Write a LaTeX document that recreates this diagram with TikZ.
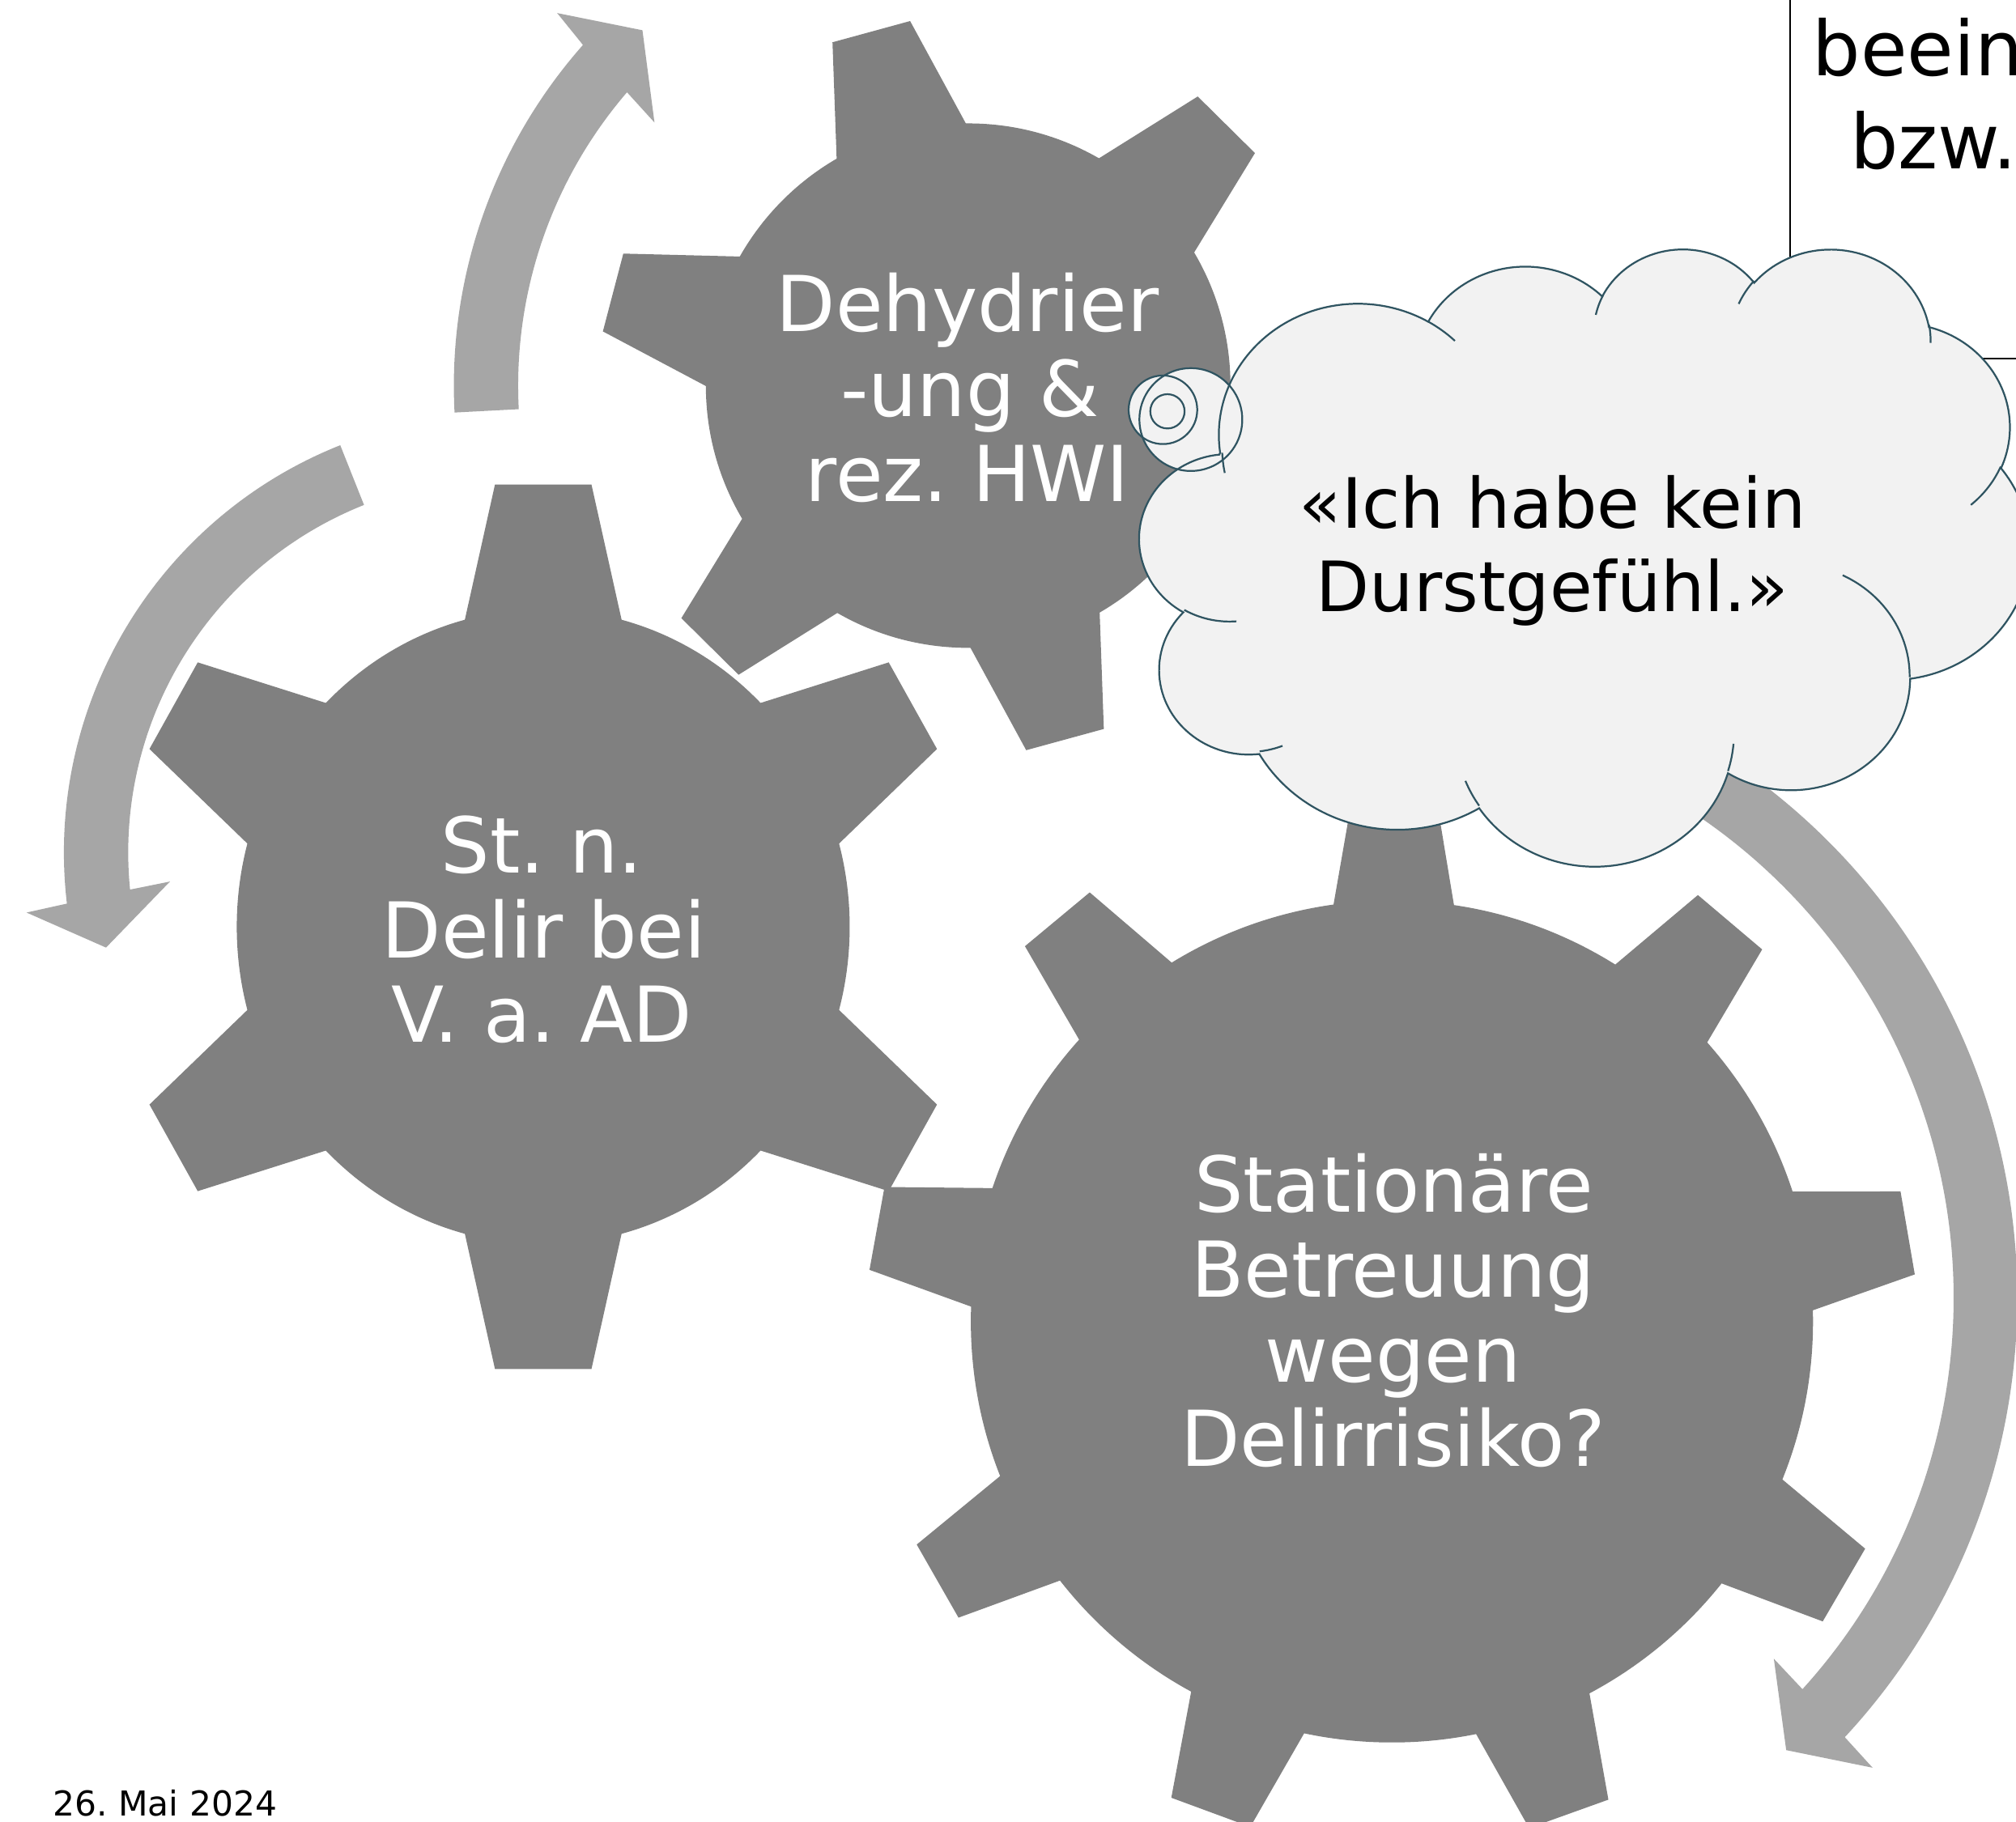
\documentclass[tikz,border=0pt]{standalone}
\usepackage{fontspec}
\setmainfont{DejaVu Sans}
\frenchspacing
\definecolor{gearc}{HTML}{808080}
\definecolor{arrowc}{HTML}{A6A6A6}
\definecolor{cloudfillc}{HTML}{F2F2F2}
\definecolor{cloudlinec}{HTML}{2F5461}
\tikzset{
  gearfill/.style={fill=gearc},
  arrowfill/.style={fill=arrowc},
  cloudfill/.style={fill=cloudfillc},
  cloudline/.style={draw=cloudlinec, line width=1.4pt},
  geartext/.style={text=white, font=\fontsize{60}{66}\selectfont, anchor=base, inner sep=0pt},
  cloudtext/.style={text=black, font=\fontsize{54}{65}\selectfont, anchor=base, inner sep=0pt},
  boxline/.style={draw=black, line width=1.3pt},
  boxtext/.style={text=black, font=\fontsize{59}{72}\selectfont, anchor=base west, inner sep=0pt},
  datetext/.style={text=black, font=\fontsize{26.7}{32}\selectfont, anchor=base west, inner sep=0pt}
}
% visual (DrawingML) angles -> parametric angles of an ellipse arc
\newcommand\cldang[6]{%
  \pgfmathparse{atan2((#3)*sin(#5),(#4)*cos(#5))}\xdef#1{\pgfmathresult}%
  \pgfmathparse{atan2((#3)*sin((#5)+(#6)),(#4)*cos((#5)+(#6)))}\xdef#2{\pgfmathresult}%
  \pgfmathparse{ifthenelse(#2<#1,#2+360,#2)}\xdef#2{\pgfmathresult}%
}
\cldang{\cldsA}{\cldeA}{67.53}{91.90}{-190.4875}{123.7805}
\cldang{\cldsB}{\cldeB}{53.33}{72.67}{-144.1024}{89.9452}
\cldang{\cldsC}{\cldeC}{43.65}{59.45}{-145.8079}{99.7230}
\cldang{\cldsD}{\cldeD}{48.57}{65.95}{-130.9861}{117.2417}
\cldang{\cldsE}{\cldeE}{53.33}{72.73}{-78.7089}{109.0269}
\cldang{\cldsF}{\cldeF}{67.75}{92.20}{-46.2673}{130.2690}
\cldang{\cldsG}{\cldeG}{57.85}{78.67}{0.6250}{114.0333}
\cldang{\cldsH}{\cldeH}{67.52}{92.15}{22.4516}{115.1726}
\cldang{\cldsI}{\cldeI}{77.20}{105.43}{66.2426}{75.7110}
\cldang{\cldsJ}{\cldeJ}{43.60}{59.18}{-274.9421}{146.7356}
\cldang{\cldsK}{\cldeK}{43.45}{59.45}{-246.8285}{152.5189}
\cldang{\tlsA}{\tleA}{43.45}{59.45}{86.7420}{26.4295}
\cldang{\tlsB}{\tleB}{43.60}{59.18}{73.6105}{11.4475}
\cldang{\tlsC}{\tleC}{67.52}{92.15}{137.6242}{14.0811}
\cldang{\tlsD}{\tleD}{67.52}{92.15}{6.4533}{15.9984}
\cldang{\tlsE}{\tleE}{57.85}{78.67}{-70.2924}{70.9174}
\cldang{\tlsF}{\tleF}{53.33}{72.73}{30.3180}{27.7515}
\cldang{\tlsG}{\tleG}{48.57}{65.95}{-13.7443}{14.8589}
\cldang{\tlsH}{\tleH}{48.57}{65.95}{-149.1815}{18.1954}
\cldang{\tlsI}{\tleI}{43.65}{59.45}{-163.4943}{17.6864}
\cldang{\tlsJ}{\tleJ}{67.53}{91.90}{-66.7070}{12.3194}
\cldang{\tlsK}{\tleK}{67.53}{91.90}{164.6645}{11.9437}
\newcommand\cloudoutline{(39.00,143.70)
  arc[start angle=\cldsA, end angle=\cldeA, x radius=67.53, y radius=91.90]
  arc[start angle=\cldsB, end angle=\cldeB, x radius=53.33, y radius=72.67]
  arc[start angle=\cldsC, end angle=\cldeC, x radius=43.65, y radius=59.45]
  arc[start angle=\cldsD, end angle=\cldeD, x radius=48.57, y radius=65.95]
  arc[start angle=\cldsE, end angle=\cldeE, x radius=53.33, y radius=72.73]
  arc[start angle=\cldsF, end angle=\cldeF, x radius=67.75, y radius=92.20]
  arc[start angle=\cldsG, end angle=\cldeG, x radius=57.85, y radius=78.67]
  arc[start angle=\cldsH, end angle=\cldeH, x radius=67.52, y radius=92.15]
  arc[start angle=\cldsI, end angle=\cldeI, x radius=77.20, y radius=105.43]
  arc[start angle=\cldsJ, end angle=\cldeJ, x radius=43.60, y radius=59.18]
  arc[start angle=\cldsK, end angle=\cldeK, x radius=43.45, y radius=59.45]
  -- cycle}
\begin{document}
\begin{tikzpicture}[x=1pt,y=-1pt]
\fill[white] (0,0) rectangle (1568,1417);
\useasboundingbox (0,0) rectangle (1568,1417);

% ---------- curved arrows ----------
\begin{scope}[shift={(753,300)}]
  \fill[arrowfill] (183:400pt) arc[start angle=183, end angle=138.5, radius=400pt]
    -- (137.8:431.5pt) -- (132.5:375pt) -- (140:318.5pt) -- (139.3:350pt)
    arc[start angle=139.3, end angle=183, radius=350pt] -- cycle;
\end{scope}
\begin{scope}[shift={(390.7,663.2)}]
  \fill[arrowfill] (111.7:341pt) arc[start angle=111.7, end angle=186.7, radius=341pt]
    -- (187.2:373pt) -- (193.5:317pt) -- (185.0:259.5pt) -- (185.7:291pt)
    arc[start angle=185.7, end angle=111.7, radius=291pt] -- cycle;
\end{scope}
\begin{scope}[shift={(1066.5,1009.7)}]
  \fill[arrowfill] (64:502.5pt) arc[start angle=64, end angle=-42.86, radius=502.5pt]
    -- (-43.15:534.5pt) -- (-47.47:477.5pt) -- (-41.88:420.6pt) -- (-42.23:453pt)
    arc[start angle=-42.23, end angle=64, radius=453pt] -- cycle;
\end{scope}

% ---------- gears ----------
\begin{scope}[shift={(753,300)}]
  \fill[gearfill] (0,0) circle[radius=204pt];
  \foreach \a in {45.3,105.3,165.3,225.3,285.3,345.3}
    \fill[gearfill,rotate=\a] (184pt,-55.2pt) -- (285.5pt,-31.3pt) -- (285.5pt,31.3pt) -- (184pt,55.2pt) -- cycle;
\end{scope}
\begin{scope}[shift={(422.5,721)},xscale=0.965]
  \fill[gearfill] (0,0) circle[radius=247pt];
  \foreach \a in {30,90,150,210,270,330}
    \fill[gearfill,rotate=\a] (227pt,-65.9pt) -- (344pt,-38.9pt) -- (344pt,38.9pt) -- (227pt,65.9pt) -- cycle;
\end{scope}
\begin{scope}[shift={(1082.6,1028.1)}]
  \fill[gearfill] (0,0) circle[radius=327.5pt];
  \foreach \a in {9.75,49.75,89.75,129.75,169.75,209.75,249.75,289.75,329.75}
    \fill[gearfill,rotate=\a] (305pt,-50.1pt) -- (407pt,-32.75pt) -- (407pt,32.75pt) -- (305pt,50.1pt) -- cycle;
\end{scope}

% ---------- box at top right ----------
\draw[boxline] (1392.3,-5) -- (1392.3,279.2) -- (1580,279.2);
\node[boxtext] (bx1) at (1409.5,58.8) {beein};
\node[boxtext] (bx2) at (1438.8,131.2) {bzw.};

% ---------- cloud callout ----------
\begin{scope}[shift={(886.5,192.5)},x=1.60185pt,y=-1.11111pt]
  \fill[cloudfill] \cloudoutline;
\end{scope}
\fill[cloudfill] (926.2,326.4) circle[radius=40];
\fill[cloudfill] (904.5,318.8) circle[radius=26.67];
\fill[cloudfill] (908,320) circle[radius=13.33];
\begin{scope}[shift={(886.5,192.5)},x=1.60185pt,y=-1.11111pt]
  \draw[cloudline] \cloudoutline;
  \draw[cloudline] (46.93,261.77) arc[start angle=\tlsA, end angle=\tleA, x radius=43.45, y radius=59.45];
  \draw[cloudline] (69.28,348.99) arc[start angle=\tlsB, end angle=\tleB, x radius=43.60, y radius=59.18];
  \draw[cloudline] (164.78,390.90) arc[start angle=\tlsC, end angle=\tleC, x radius=67.52, y radius=92.15];
  \draw[cloudline] (288.27,347.51) arc[start angle=\tlsD, end angle=\tleD, x radius=67.52, y radius=92.15];
  \draw[cloudline] (341.29,229.54) arc[start angle=\tlsE, end angle=\tleE, x radius=57.85, y radius=78.67];
  \draw[cloudline] (417.98,153.54) arc[start angle=\tlsF, end angle=\tleF, x radius=53.33, y radius=72.73];
  \draw[cloudline] (383.24,54.26) arc[start angle=\tlsG, end angle=\tleG, x radius=48.57, y radius=65.95];
  \draw[cloudline] (290.78,39.52) arc[start angle=\tlsH, end angle=\tleH, x radius=48.57, y radius=65.95];
  \draw[cloudline] (221.41,47.20) arc[start angle=\tlsI, end angle=\tleI, x radius=43.65, y radius=59.45];
  \draw[cloudline] (140.00,51.92) arc[start angle=\tlsJ, end angle=\tleJ, x radius=67.53, y radius=91.90];
  \draw[cloudline] (41.27,157.89) arc[start angle=\tlsK, end angle=\tleK, x radius=67.53, y radius=91.90];
\end{scope}
\draw[cloudline] (926.2,326.4) circle[radius=40];
\draw[cloudline] (904.5,318.8) circle[radius=26.67];
\draw[cloudline] (908,320) circle[radius=13.33];

% ---------- texts ----------
\node[geartext] (g1a) at (752.5,258) {Dehydrier};
\node[geartext] (g1b) at (754.5,324) {-ung \&};
\node[geartext] (g1c) at (752.5,390) {rez. HWI};
\node[geartext] (g2a) at (421.5,679) {St. n.};
\node[geartext] (g2b) at (423,745) {Delir bei};
\node[geartext] (g2c) at (421.5,811) {V. a. AD};
\node[geartext] (g3a) at (1084,943) {Stationäre};
\node[geartext] (g3b) at (1083.5,1009) {Betreuung};
\node[geartext] (g3c) at (1083.5,1075) {wegen};
\node[geartext] (g3d) at (1083.5,1141) {Delirrisiko?};
\node[cloudtext] (c1) at (1207.5,411) {«Ich habe kein};
\node[cloudtext] (c2) at (1207.5,476) {Durstgefühl.»};
\node[datetext] (date) at (41,1413) {26. Mai 2024};
\end{tikzpicture}
\end{document}
